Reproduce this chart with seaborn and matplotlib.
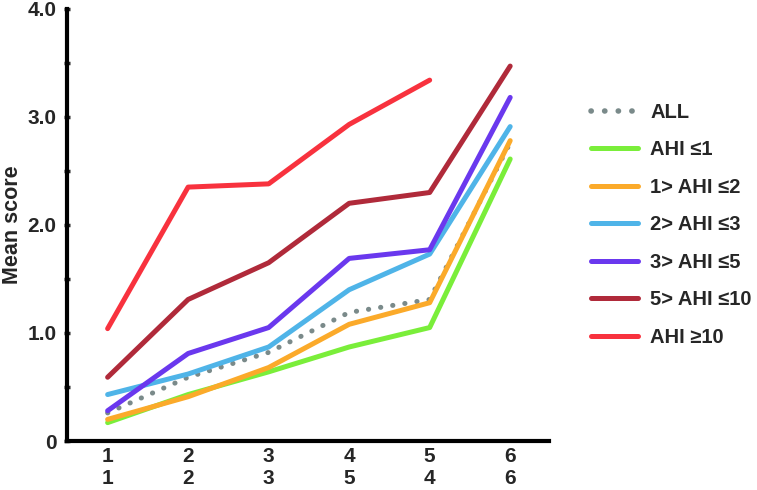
"""Mean score by step for AHI groups."""

import matplotlib
matplotlib.use("Agg")
import matplotlib.pyplot as plt
import pandas as pd
import seaborn as sns

STEPS = [1, 2, 3, 4, 5, 6]
TICK_LABELS = ["1\n1", "2\n2", "3\n3", "4\n5", "5\n4", "6\n6"]

GROUPS = ["ALL", "AHI ≤1", "1> AHI ≤2", "2> AHI ≤3", "3> AHI ≤5", "5> AHI ≤10", "AHI ≥10"]
ALL = [0.26, 0.59, 0.82, 1.19, 1.31, 2.76]
AHI_LE1 = [0.17, 0.43, 0.64, 0.87, 1.05, 2.61]
AHI_1_2 = [0.20, 0.41, 0.68, 1.08, 1.28, 2.78]
AHI_2_3 = [0.43, 0.62, 0.87, 1.40, 1.73, 2.91]
AHI_3_5 = [0.28, 0.81, 1.05, 1.69, 1.77, 3.18]
AHI_5_10 = [0.59, 1.31, 1.65, 2.20, 2.30, 3.47]
AHI_GE10 = [1.04, 2.35, 2.38, 2.93, 3.34, None]

COLORS = ["#7a8a8a", "#7aee3a", "#fbaa2a", "#4fb4e8", "#6a38ee", "#b02a3a", "#f8323e"]


def build_frame() -> pd.DataFrame:
    series = [ALL, AHI_LE1, AHI_1_2, AHI_2_3, AHI_3_5, AHI_5_10, AHI_GE10]
    rows = []
    for name, vals in zip(GROUPS, series):
        for step, v in zip(STEPS, vals):
            if v is not None:
                rows.append({"step": step, "score": v, "group": name})
    return pd.DataFrame(rows)


def main() -> None:
    sns.set_style("white")
    plt.rcParams["font.family"] = ["Liberation Sans", "DejaVu Sans"]
    plt.rcParams["font.weight"] = "bold"

    df = build_frame()
    fig = plt.figure(figsize=(7.57, 4.90), dpi=100)
    ax = fig.add_axes([0.089, 0.10, 0.636, 0.882])

    dashes = {g: "" for g in GROUPS}
    dashes["ALL"] = (0.05, 2.4)
    sns.lineplot(
        data=df, x="step", y="score", hue="group", style="group",
        hue_order=GROUPS, style_order=GROUPS,
        palette=dict(zip(GROUPS, COLORS)), dashes=dashes,
        linewidth=3.6, ax=ax, legend=True,
    )
    for line in ax.get_lines():
        line.set_dash_capstyle("round")
        line.set_solid_capstyle("round")
        if line.get_label() == "ALL":
            line.set_linewidth(4.0)

    handles, labels = ax.get_legend_handles_labels()
    for h in handles:
        h.set_linewidth(4.0 if h.get_label() == "ALL" else 3.6)
        h.set_dash_capstyle("round")
        h.set_solid_capstyle("round")
    ax.legend(
        handles, labels, loc="center left", bbox_to_anchor=(1.05, 0.50),
        frameon=False, handlelength=2.33, labelspacing=0.92,
        handletextpad=0.6, prop={"weight": "bold", "size": 14.5},
    )

    ax.set_xlim(0.5, 6.48)
    ax.set_ylim(0, 4.0)
    ax.set_xticks(STEPS)
    ax.set_xticklabels(TICK_LABELS, fontsize=15, fontweight="bold", linespacing=1.2)
    ax.set_yticks([0, 0.5, 1, 1.5, 2, 2.5, 3, 3.5, 4])
    ax.set_yticklabels(["0", "", "1.0", "", "2.0", "", "3.0", "", "4.0"],
                       fontsize=15, fontweight="bold")
    ax.tick_params(axis="x", length=0, pad=4)
    ax.tick_params(axis="y", length=4, width=2.5, direction="inout", left=True, pad=6)
    ax.set_xlabel("")
    ax.set_ylabel("Mean score", fontsize=15.5, fontweight="bold", labelpad=3)

    sns.despine(ax=ax)
    for side in ("left", "bottom"):
        ax.spines[side].set_linewidth(3)
        ax.spines[side].set_color("black")

    fig.savefig("out.png", dpi=100)
    plt.close(fig)


if __name__ == "__main__":
    main()
